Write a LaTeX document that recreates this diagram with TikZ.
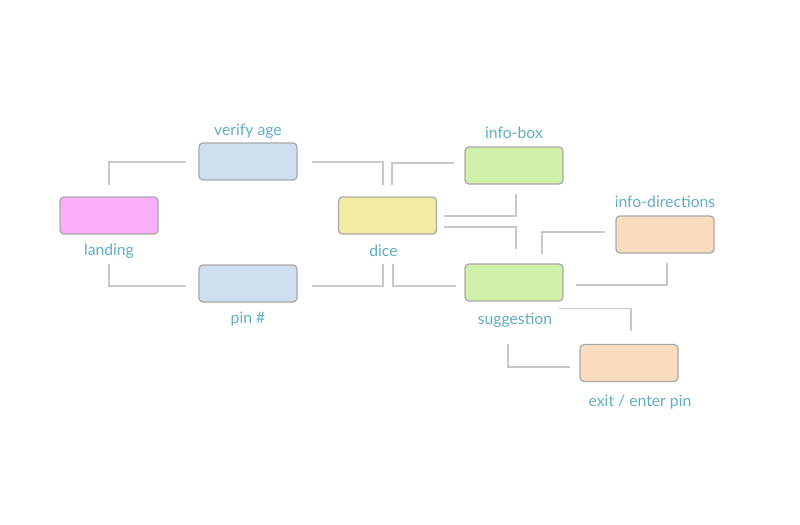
\documentclass[tikz,border=0pt]{standalone}
\usepackage{fontspec}
\setmainfont{Lato}
\usetikzlibrary{calc}
\definecolor{txt}{HTML}{62AEC4}
\definecolor{edge}{HTML}{A9A9A9}
\definecolor{conncol}{HTML}{C8C8C8}
\definecolor{pinkf}{HTML}{F9B0F8}
\definecolor{bluef}{HTML}{D0DFF0}
\definecolor{yellowf}{HTML}{F2EBA2}
\definecolor{greenf}{HTML}{D0F2A8}
\definecolor{peachf}{HTML}{FADCBF}
\tikzset{
  box/.style={draw=edge, line width=1pt, rounded corners=3pt, minimum width=73.5pt, minimum height=27.75pt, inner sep=0pt},
  conn/.style={draw=conncol, line width=1.1pt},
  lbl/.style={text=txt, font=\fontsize{11.8pt}{13pt}\selectfont, inner sep=0pt}
}
\begin{document}
\begin{tikzpicture}[x=0.75pt, y=-0.75pt]
\useasboundingbox (0,0) rectangle (800,525);
\fill[white] (0,0) rectangle (800,525);
% boxes
\node[box, fill=pinkf] (landing) at (109,215.5) {};
\node[box, fill=bluef] (verify) at (248,161.5) {};
\node[box, fill=bluef] (pin) at (248,283.5) {};
\node[box, fill=yellowf] (dice) at (387.5,215.5) {};
\node[box, fill=greenf] (infobox) at (514,165.5) {};
\node[box, fill=greenf] (suggestion) at (514,282.5) {};
\node[box, fill=peachf] (infodir) at (665,234.5) {};
\node[box, fill=peachf] (exit) at (629,363) {};
% labels
\node[lbl] (lverify) at ($(verify.north)+(0,-11)$) {verify age};
\node[lbl] (llanding) at ($(landing.south)+(0,16)$) {landing};
\node[lbl] (lpin) at ($(pin.south)+(0,16)$) {pin \#};
\node[lbl] (ldice) at ($(dice.south)+(-4,16)$) {dice};
\node[lbl] (linfobox) at ($(infobox.north)+(0,-14)$) {info-box};
\node[lbl] (linfodir) at ($(infodir.north)+(0,-14)$) {info-directions};
\node[lbl] (lsugg) at ($(suggestion.south)+(1,18)$) {suggestion};
\node[lbl] (lexit) at ($(exit.south)+(11,20)$) {exit / enter pin};
% connectors
\draw[conn] ($(landing.north)+(0,-11)$) |- ($(verify.west)+(-12,0.5)$);
\draw[conn] ($(verify.east)+(14,0.5)$) -| ($(dice.north)+(-4.5,-11)$);
\draw[conn] ($(landing.south)+(0,29)$) |- ($(pin.west)+(-12,2.5)$);
\draw[conn] ($(pin.east)+(14,2.5)$) -| ($(dice.south)+(-4.5,29)$);
\draw[conn] ($(dice.north)+(4.5,-11)$) |- ($(infobox.west)+(-10,-2.5)$);
\draw[conn] ($(dice.east)+(7,0.5)$) -| ($(infobox.south)+(2,9)$);
\draw[conn] ($(dice.east)+(7,11.5)$) -| ($(suggestion.north)+(2,-14)$);
\draw[conn] ($(dice.south)+(5.5,29)$) |- ($(suggestion.west)+(-8,3.5)$);
\draw[conn] ($(suggestion.north)+(28,-9)$) |- ($(infodir.west)+(-10,-2.5)$);
\draw[conn] ($(suggestion.east)+(12,2.5)$) -| ($(infodir.south)+(2,9)$);
\draw[conn] ($(suggestion.south)+(45,7)$) -| ($(exit.north)+(2,-13)$);
\draw[conn] ($(suggestion.south)+(-6,42)$) |- ($(exit.west)+(-9,4)$);
\end{tikzpicture}
\end{document}
